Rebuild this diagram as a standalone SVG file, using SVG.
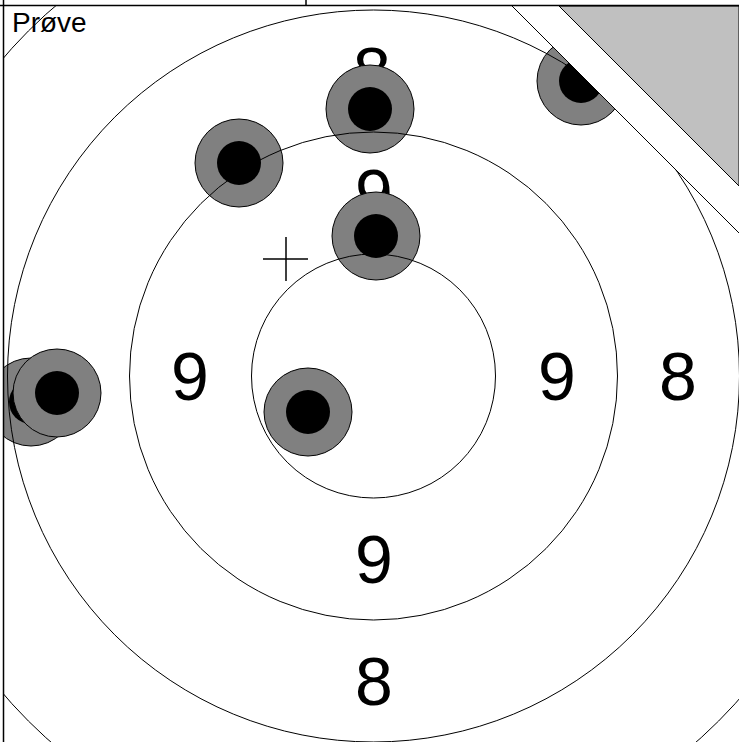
<svg xmlns="http://www.w3.org/2000/svg" width="739" height="742" viewBox="0 0 739 742">
<style>
.ring{fill:none;stroke:#000;stroke-width:1}
.num{font-family:"Liberation Sans",Arial,sans-serif;font-size:68px;fill:#000;text-anchor:middle}
.outer{fill:#808080;stroke:#000;stroke-width:1}
.inner{fill:#000}
.frame{stroke:#000;stroke-width:1.5;fill:none}
</style>
<defs>
<clipPath id="area"><rect x="4" y="6" width="735" height="736"/></clipPath>
<g id="shot"><circle class="outer" r="44"/><circle class="inner" r="22"/></g>
</defs>
<rect width="739" height="742" fill="#fff"/>
<g clip-path="url(#area)">
<g id="labels">
<text class="num" x="190" y="400">9</text>
<text class="num" x="557" y="400">9</text>
<text class="num" x="678" y="400">8</text>
<text class="num" x="374" y="583">9</text>
<text class="num" x="374" y="705">8</text>
<text class="num" x="374" y="217">9</text>
<text class="num" x="372" y="95">8</text>
</g>
<g id="shots">
<use id="shot-b" href="#shot" x="31" y="402"/>
<use id="shot-a" href="#shot" x="57" y="393"/>
<use id="shot-1" href="#shot" x="370" y="109"/>
<use id="shot-2" href="#shot" x="376" y="236"/>
<use id="shot-3" href="#shot" x="239" y="163"/>
<use id="shot-4" href="#shot" x="308" y="412"/>
<use id="shot-6" href="#shot" x="581" y="81"/>
</g>
<g id="rings">
<circle class="ring" cx="373.5" cy="376" r="122"/>
<circle class="ring" cx="373.5" cy="376" r="244"/>
<circle class="ring" cx="373.5" cy="376" r="366"/>
<circle class="ring" cx="373.5" cy="376" r="488"/>
</g>
<g id="cross" stroke="#000" stroke-width="1.5">
<line x1="263" y1="259" x2="308" y2="259"/>
<line x1="286" y1="237" x2="286" y2="281"/>
</g>
<g id="corner">
<polygon points="512,6 739,6 739,233" fill="#fff"/>
<polygon points="559,6 739,6 739,186" fill="#c0c0c0" stroke="#000" stroke-width="1"/>
<line x1="512" y1="6" x2="739" y2="233" stroke="#000" stroke-width="1"/>
</g>
</g>
<g id="frame">
<line class="frame" x1="3.5" y1="0" x2="3.5" y2="742"/>
<line class="frame" x1="0" y1="5.5" x2="739" y2="5.5"/>
<line class="frame" x1="306" y1="0" x2="306" y2="5.5"/>
</g>
<text x="12" y="31.5" font-family="Liberation Sans, Arial, sans-serif" font-size="28">Prøve</text>
</svg>
